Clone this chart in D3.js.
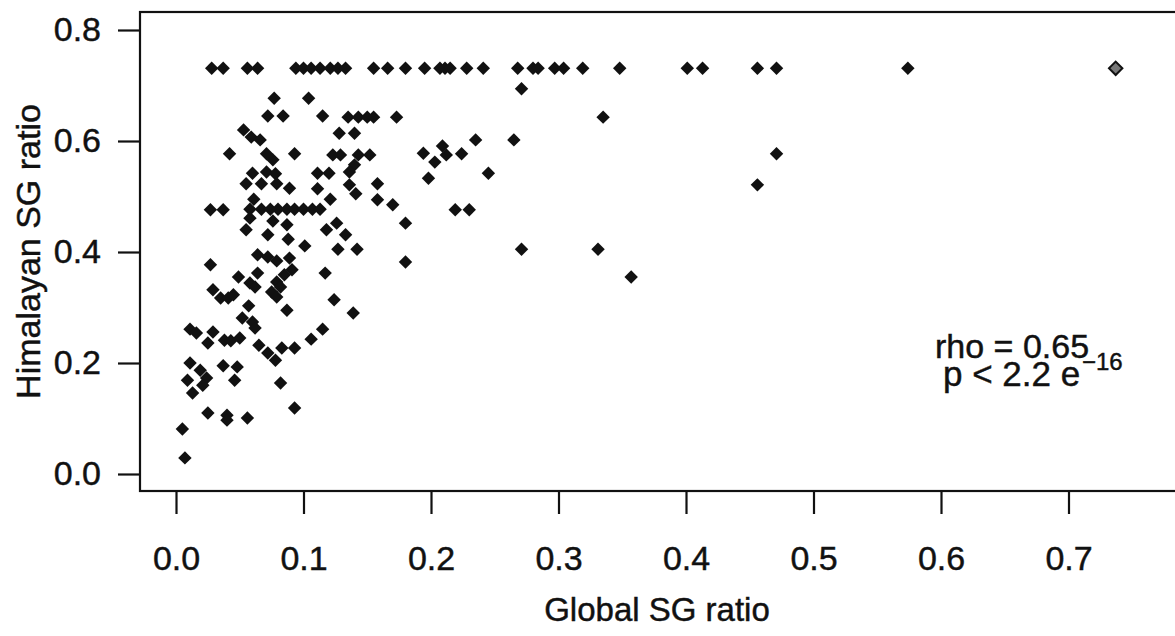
<!DOCTYPE html>
<html>
<head>
<meta charset="utf-8">
<script src="https://cdn.jsdelivr.net/npm/d3@7"></script>
<style>
  body { margin: 0; background: #fff; }
  svg { display: block; }
  text { font-family: "Liberation Sans", Arial, Helvetica, sans-serif; fill: #111; stroke: #111; stroke-width: 0.45px; }
</style>
</head>
<body>
<svg id="chart" width="1175" height="636"></svg>
<script>
// tick values and labels
var xTicks = [0, 0.1, 0.2, 0.3, 0.4, 0.5, 0.6, 0.7];
var yTicks = [0, 0.2, 0.4, 0.6, 0.8];
var xTitle = "Global SG ratio";
var yTitle = "Himalayan SG ratio";
var statRho = "rho = 0.65";
var statP = "p < 2.2 e";
var statExp = "\u221216";

// [global SG ratio, himalayan SG ratio]
var ceilingPairs = [
  [0.028, 0.731], [0.037, 0.731], [0.056, 0.731], [0.064, 0.731], [0.094, 0.731],
  [0.100, 0.731], [0.106, 0.731], [0.113, 0.731], [0.121, 0.731], [0.127, 0.731],
  [0.133, 0.731], [0.155, 0.731], [0.166, 0.731], [0.180, 0.731], [0.195, 0.731],
  [0.207, 0.731], [0.211, 0.731], [0.215, 0.731], [0.228, 0.731], [0.241, 0.731],
  [0.268, 0.731], [0.280, 0.731], [0.284, 0.731], [0.297, 0.731], [0.304, 0.731],
  [0.319, 0.731], [0.348, 0.731], [0.401, 0.731], [0.413, 0.731], [0.456, 0.731],
  [0.471, 0.731], [0.574, 0.731], [0.737, 0.731]
];

var upperPairs = [
  [0.271, 0.694], [0.077, 0.677], [0.104, 0.677], [0.072, 0.645], [0.084, 0.645],
  [0.115, 0.645], [0.135, 0.643], [0.143, 0.643], [0.150, 0.643], [0.155, 0.643],
  [0.173, 0.643], [0.128, 0.614], [0.140, 0.614], [0.053, 0.620], [0.059, 0.607],
  [0.066, 0.602], [0.235, 0.602], [0.265, 0.602], [0.335, 0.643], [0.209, 0.591],
  [0.042, 0.577], [0.071, 0.577], [0.076, 0.566], [0.093, 0.577], [0.123, 0.575],
  [0.129, 0.575], [0.143, 0.575], [0.152, 0.575], [0.194, 0.578], [0.203, 0.562],
  [0.212, 0.575], [0.224, 0.577], [0.471, 0.577], [0.140, 0.557], [0.136, 0.544],
  [0.120, 0.542], [0.245, 0.542], [0.060, 0.542], [0.071, 0.544], [0.078, 0.541],
  [0.111, 0.542], [0.198, 0.533], [0.158, 0.523], [0.136, 0.521], [0.141, 0.505],
  [0.055, 0.523], [0.067, 0.523], [0.079, 0.523], [0.089, 0.515], [0.111, 0.514],
  [0.456, 0.521], [0.158, 0.494], [0.170, 0.485], [0.061, 0.495], [0.121, 0.495]
];

var middlePairs = [
  [0.027, 0.476], [0.037, 0.476], [0.058, 0.477], [0.067, 0.477], [0.074, 0.477],
  [0.080, 0.477], [0.087, 0.477], [0.093, 0.477], [0.100, 0.477], [0.107, 0.477],
  [0.113, 0.477], [0.058, 0.461], [0.219, 0.476], [0.230, 0.476], [0.076, 0.456],
  [0.087, 0.449], [0.180, 0.452], [0.126, 0.452], [0.055, 0.440], [0.072, 0.431],
  [0.118, 0.440], [0.133, 0.431], [0.088, 0.423], [0.101, 0.411], [0.127, 0.405],
  [0.142, 0.405], [0.271, 0.405], [0.331, 0.405], [0.064, 0.395], [0.072, 0.391],
  [0.079, 0.384], [0.089, 0.389], [0.180, 0.382], [0.027, 0.377], [0.357, 0.355],
  [0.117, 0.362], [0.049, 0.355], [0.064, 0.362], [0.091, 0.368], [0.085, 0.359],
  [0.058, 0.344], [0.062, 0.337], [0.079, 0.346], [0.082, 0.337], [0.029, 0.332],
  [0.035, 0.317], [0.041, 0.317], [0.045, 0.323], [0.075, 0.328], [0.079, 0.319],
  [0.124, 0.314]
];

var lowerPairs = [
  [0.057, 0.303], [0.087, 0.295], [0.139, 0.290], [0.052, 0.281], [0.060, 0.274],
  [0.062, 0.263], [0.115, 0.261], [0.106, 0.243], [0.093, 0.227], [0.083, 0.227],
  [0.011, 0.261], [0.016, 0.254], [0.029, 0.256], [0.025, 0.236], [0.038, 0.241],
  [0.043, 0.240], [0.050, 0.245], [0.065, 0.232], [0.072, 0.218], [0.078, 0.205],
  [0.011, 0.200], [0.019, 0.187], [0.024, 0.173], [0.009, 0.169], [0.021, 0.160],
  [0.013, 0.146], [0.037, 0.195], [0.048, 0.193], [0.046, 0.169], [0.082, 0.164],
  [0.093, 0.119], [0.025, 0.110], [0.040, 0.106], [0.040, 0.097], [0.056, 0.101],
  [0.005, 0.081], [0.007, 0.029]
];

var points = [].concat(ceilingPairs, upperPairs, middlePairs, lowerPairs);

var svg = d3.select("#chart");

// plot frame (right side runs just past the picture edge)
var box = { left: 140, top: 12, right: 1180, bottom: 491 };

var x = d3.scaleLinear()
  .domain([0, 0.7])
  .range([176, 1068.5]);

var y = d3.scaleLinear()
  .domain([0, 0.8])
  .range([474, 30]);

var fmt = d3.format(".1f");

svg.append("rect")
  .attr("x", box.left)
  .attr("y", box.top)
  .attr("width", box.right - box.left)
  .attr("height", box.bottom - box.top)
  .attr("fill", "none")
  .attr("stroke", "#111")
  .attr("stroke-width", 2.2);

function styleAxis(g) {
  g.attr("font-size", null).attr("font-family", null);
  g.select(".domain").remove();
  g.selectAll(".tick line").attr("stroke", "#111").attr("stroke-width", 2.2);
  g.selectAll(".tick text").attr("font-size", 34).attr("fill", "#111");
}

svg.append("g")
  .attr("transform", "translate(0," + box.bottom + ")")
  .call(d3.axisBottom(x).tickValues(xTicks).tickFormat(fmt).tickSize(23).tickPadding(32))
  .call(styleAxis);

svg.append("g")
  .attr("transform", "translate(" + box.left + ",0)")
  .call(d3.axisLeft(y).tickValues(yTicks).tickFormat(fmt).tickSize(22).tickPadding(17))
  .call(styleAxis);

// axis titles
svg.append("text")
  .attr("x", 657)
  .attr("y", 621)
  .attr("text-anchor", "middle")
  .attr("font-size", 33)
  .text(xTitle);

svg.append("text")
  .attr("transform", "translate(40," + (box.top + box.bottom) / 2 + ") rotate(-90)")
  .attr("text-anchor", "middle")
  .attr("font-size", 34)
  .text(yTitle);

// points
var maxX = d3.max(points, function(d) { return d[0]; });
var diamond = d3.symbol().type(d3.symbolSquare).size(90);

svg.append("g")
  .selectAll("path")
  .data(points)
  .enter().append("path")
    .attr("d", diamond)
    .attr("transform", function(d) { return "translate(" + x(d[0]) + "," + y(d[1]) + ") rotate(45)"; })
    .attr("fill", function(d) { return d[0] === maxX ? "#777" : "#111"; })
    .attr("stroke", "#111")
    .attr("stroke-width", function(d) { return d[0] === maxX ? 2 : 0; });

// correlation note
svg.append("text")
  .attr("x", 935)
  .attr("y", 358)
  .attr("font-size", 34)
  .text(statRho);

svg.append("text")
  .attr("x", 943)
  .attr("y", 386)
  .attr("font-size", 35)
  .text(statP);

svg.append("text")
  .attr("x", 1082)
  .attr("y", 370)
  .attr("font-size", 24)
  .text(statExp);
</script>
</body>
</html>
